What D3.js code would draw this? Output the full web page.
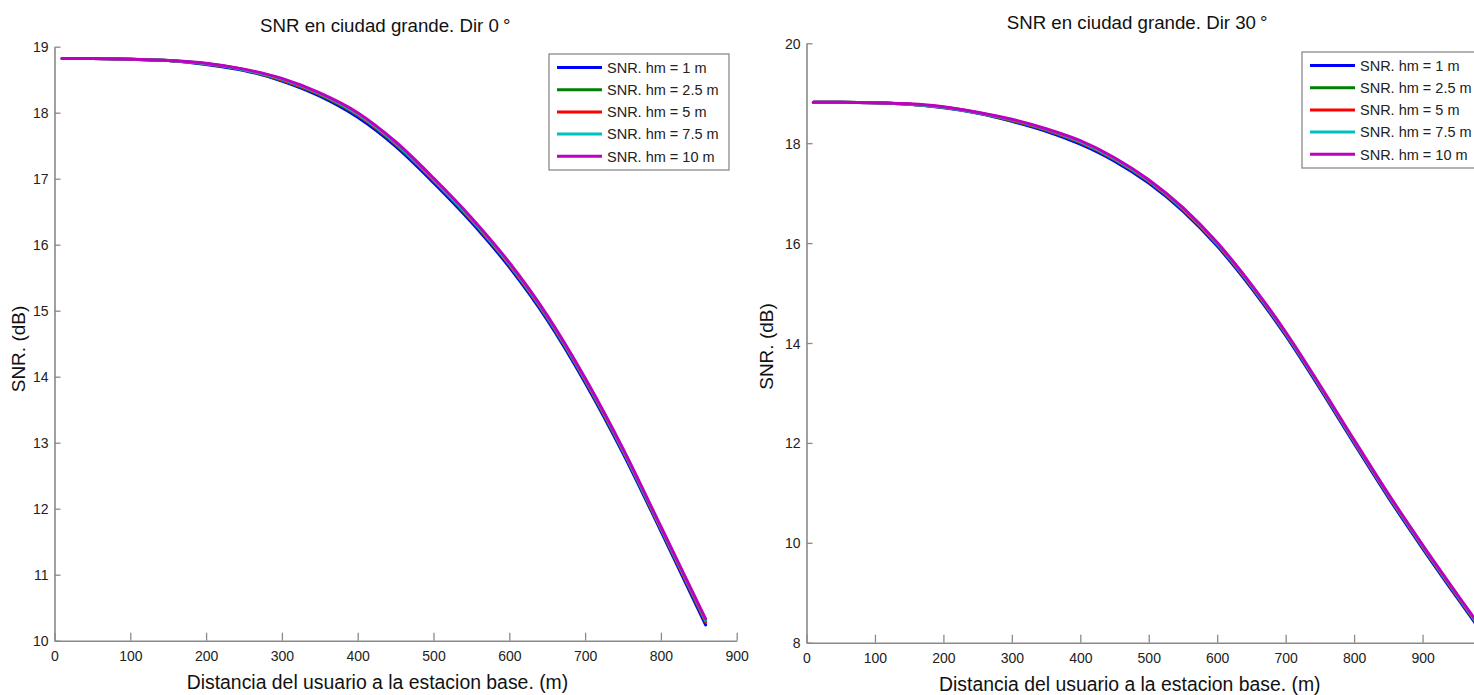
<!DOCTYPE html>
<html>
<head>
<meta charset="utf-8">
<script src="https://cdn.jsdelivr.net/npm/d3@7"></script>
<style>
  html, body { margin: 0; padding: 0; background: #fff; }
  svg { display: block; font-family: "Liberation Sans", Arial, Helvetica, sans-serif; }
</style>
</head>
<body>
<svg id="chart" width="1474" height="695"></svg>
<script>
// Distance from the base station (m)
const distDir0 = [10, 50, 100, 150, 200, 250, 300, 350, 400, 450, 500, 550, 600, 650, 700, 750, 800, 859];
const distDir30 = [10, 50, 100, 150, 200, 250, 300, 350, 400, 450, 500, 550, 600, 650, 700, 750, 800, 850, 900, 950, 1000];

// SNR (dB), direction 0°
const snrDir0_hm1   = [18.82, 18.82, 18.81, 18.79, 18.73, 18.64, 18.48, 18.25, 17.93, 17.49, 16.94, 16.34, 15.66, 14.86, 13.91, 12.84, 11.66, 10.24];
const snrDir0_hm2_5 = [18.82, 18.82, 18.81, 18.79, 18.74, 18.65, 18.49, 18.27, 17.96, 17.52, 16.97, 16.37, 15.69, 14.89, 13.94, 12.87, 11.69, 10.28];
const snrDir0_hm5   = [18.82, 18.82, 18.81, 18.79, 18.74, 18.65, 18.50, 18.28, 17.97, 17.53, 16.98, 16.38, 15.70, 14.90, 13.95, 12.88, 11.70, 10.29];
const snrDir0_hm7_5 = [18.82, 18.82, 18.81, 18.79, 18.74, 18.65, 18.51, 18.29, 17.98, 17.54, 16.99, 16.39, 15.71, 14.91, 13.96, 12.89, 11.71, 10.31];
const snrDir0_hm10  = [18.82, 18.82, 18.81, 18.79, 18.75, 18.66, 18.52, 18.30, 18.00, 17.56, 17.01, 16.41, 15.73, 14.93, 13.98, 12.91, 11.73, 10.33];

// SNR (dB), direction 30°
const snrDir30_hm1   = [18.82, 18.82, 18.81, 18.78, 18.71, 18.60, 18.44, 18.24, 17.98, 17.64, 17.20, 16.64, 15.94, 15.10, 14.15, 13.09, 11.99, 10.91, 9.89, 8.91, 7.95];
const snrDir30_hm2_5 = [18.82, 18.82, 18.81, 18.78, 18.72, 18.61, 18.45, 18.26, 18.01, 17.67, 17.23, 16.67, 15.97, 15.13, 14.18, 13.12, 12.02, 10.94, 9.92, 8.94, 7.98];
const snrDir30_hm5   = [18.82, 18.82, 18.81, 18.78, 18.72, 18.61, 18.46, 18.27, 18.02, 17.68, 17.24, 16.68, 15.98, 15.14, 14.19, 13.13, 12.03, 10.95, 9.93, 8.95, 7.99];
const snrDir30_hm7_5 = [18.82, 18.82, 18.81, 18.78, 18.72, 18.61, 18.47, 18.28, 18.03, 17.69, 17.25, 16.69, 15.99, 15.15, 14.20, 13.14, 12.04, 10.96, 9.94, 8.96, 8.00];
const snrDir30_hm10  = [18.82, 18.82, 18.81, 18.79, 18.73, 18.62, 18.48, 18.29, 18.05, 17.71, 17.27, 16.71, 16.01, 15.17, 14.22, 13.16, 12.06, 10.98, 9.96, 8.98, 8.02];

// Tick values
const xTicksDir0 = [0, 100, 200, 300, 400, 500, 600, 700, 800, 900];
const yTicksDir0 = [10, 11, 12, 13, 14, 15, 16, 17, 18, 19];
const xTicksDir30 = [0, 100, 200, 300, 400, 500, 600, 700, 800, 900];
const yTicksDir30 = [8, 10, 12, 14, 16, 18, 20];

const seriesNames = ["SNR. hm = 1 m", "SNR. hm = 2.5 m", "SNR. hm = 5 m", "SNR. hm = 7.5 m", "SNR. hm = 10 m"];
const seriesColors = ["#0000ff", "#008000", "#ff0000", "#00bfbf", "#bf00bf"];

const titles = ["SNR en ciudad grande. Dir 0", "SNR en ciudad grande. Dir 30"];
const xLabel = "Distancia del usuario a la estacion base. (m)";
const yLabel = "SNR. (dB)";

const svg = d3.select("#chart");

function drawPanel(cfg) {
  const x = d3.scaleLinear().domain(cfg.xDomain).range([cfg.left, cfg.right]);
  const y = d3.scaleLinear().domain(cfg.yDomain).range([cfg.bottom, cfg.top]);
  const g = svg.append("g");

  // axes: bottom and left only, ticks pointing inward
  const xAxis = d3.axisBottom(x).tickValues(cfg.xTicks).tickFormat(d3.format("d"))
    .tickSizeInner(-8).tickSizeOuter(0).tickPadding(10);
  const yAxis = d3.axisLeft(y).tickValues(cfg.yTicks).tickFormat(d3.format("d"))
    .tickSizeInner(-6).tickSizeOuter(0).tickPadding(6);

  const gx = g.append("g").attr("transform", `translate(0,${cfg.bottom})`).call(xAxis);
  const gy = g.append("g").attr("transform", `translate(${cfg.left},0)`).call(yAxis);
  [gx, gy].forEach(a => {
    a.select(".domain").attr("stroke", "#8a8a8a").attr("stroke-width", 1.6);
    a.selectAll(".tick line").attr("stroke", "#8a8a8a").attr("stroke-width", 1.3);
    a.selectAll(".tick text").attr("fill", "#222").attr("font-size", 14)
      .attr("font-family", "Liberation Sans, Arial, sans-serif");
  });
  gx.selectAll(".tick text").attr("dy", "0.71em");
  gy.selectAll(".tick text").attr("dy", "0.36em");

  // curves, drawn in legend order so hm = 10 m sits on top
  const line = d3.line().curve(d3.curveMonotoneX).x(d => x(d[0])).y(d => y(d[1]));
  const clipId = "clip" + cfg.id;
  svg.append("clipPath").attr("id", clipId).append("rect")
    .attr("x", cfg.left).attr("y", cfg.top - 20).attr("width", cfg.right - cfg.left).attr("height", cfg.bottom - cfg.top + 20);
  const curves = g.append("g").attr("clip-path", `url(#${clipId})`);
  cfg.series.forEach((vals, i) => {
    curves.append("path")
      .datum(cfg.dist.map((d, k) => [d, vals[k]]))
      .attr("fill", "none")
      .attr("stroke", seriesColors[i])
      .attr("stroke-width", 3)
      .attr("stroke-linejoin", "round")
      .attr("stroke-linecap", "round")
      .attr("d", line);
  });

  // title with degree sign, and axis labels
  const t = g.append("text").attr("x", cfg.titleX).attr("y", cfg.titleY)
    .attr("font-size", 18.7).attr("fill", "#111").text(cfg.title);
  t.append("tspan").attr("dx", 4).text("\u00b0");
  g.append("text").attr("x", cfg.xLabelX).attr("y", cfg.xLabelY)
    .attr("font-size", 19.4).attr("fill", "#111").text(xLabel);
  g.append("text").attr("transform", `translate(${cfg.yLabelX},${cfg.yLabelY}) rotate(-90)`)
    .attr("text-anchor", "middle").attr("font-size", 19).attr("fill", "#111").text(yLabel);

  // legend
  const lg = g.append("g").attr("transform", `translate(${cfg.legendX},${cfg.legendY})`);
  lg.append("rect").attr("x", 0).attr("y", 0).attr("width", 180).attr("height", 116)
    .attr("fill", "#fff").attr("stroke", "#8a8a8a").attr("stroke-width", 1.3);
  seriesNames.forEach((name, i) => {
    const yy = 13.5 + i * 22.2;
    lg.append("line").attr("x1", 8).attr("x2", 53).attr("y1", yy).attr("y2", yy)
      .attr("stroke", seriesColors[i]).attr("stroke-width", 3);
    lg.append("text").attr("x", 58).attr("y", yy).attr("dy", "0.36em")
      .attr("font-size", 14.5).attr("fill", "#222").text(name);
  });
}

drawPanel({
  id: 0, left: 54.5, right: 736.7, top: 46.7, bottom: 640.7,
  xDomain: [0, 900], yDomain: [10, 19], xTicks: xTicksDir0, yTicks: yTicksDir0,
  dist: distDir0, series: [snrDir0_hm1, snrDir0_hm2_5, snrDir0_hm5, snrDir0_hm7_5, snrDir0_hm10],
  title: titles[0], titleX: 260, titleY: 31.5,
  xLabelX: 186.7, xLabelY: 689, yLabelX: 25, yLabelY: 349,
  legendX: 549, legendY: 54
});

drawPanel({
  id: 1, left: 806.5, right: 1491, top: 43.3, bottom: 642.7,
  xDomain: [0, 1000], yDomain: [8, 20], xTicks: xTicksDir30, yTicks: yTicksDir30,
  dist: distDir30, series: [snrDir30_hm1, snrDir30_hm2_5, snrDir30_hm5, snrDir30_hm7_5, snrDir30_hm10],
  title: titles[1], titleX: 1006.7, titleY: 28.5,
  xLabelX: 939, xLabelY: 691, yLabelX: 773, yLabelY: 346.5,
  legendX: 1302, legendY: 52
});
</script>
</body>
</html>
